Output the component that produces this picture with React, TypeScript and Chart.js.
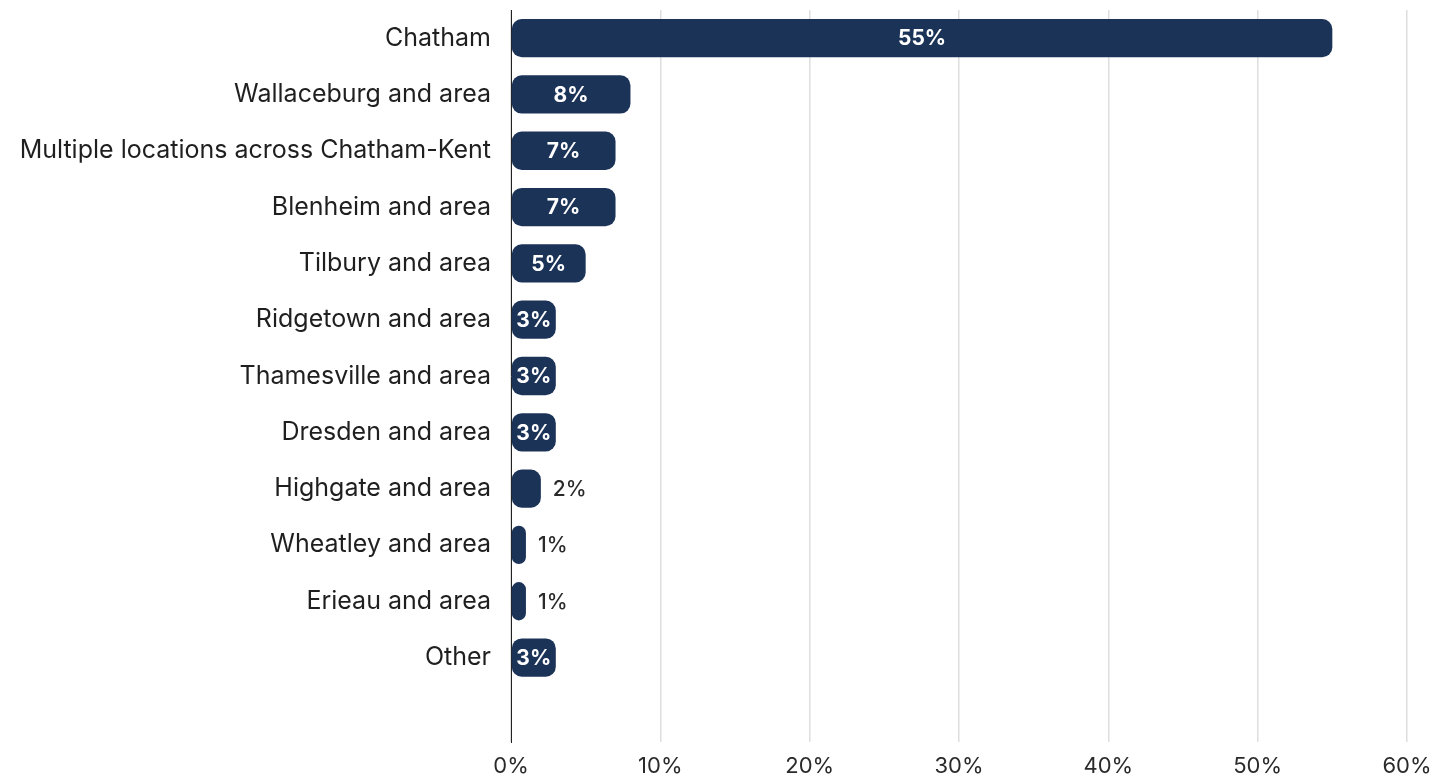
import React, { useEffect, useRef } from "react";
import { Chart, registerables } from "chart.js";

Chart.register(...registerables);

const categories = [
  "Chatham",
  "Wallaceburg and area",
  "Multiple locations across Chatham-Kent",
  "Blenheim and area",
  "Tilbury and area",
  "Ridgetown and area",
  "Thamesville and area",
  "Dresden and area",
  "Highgate and area",
  "Wheatley and area",
  "Erieau and area",
  "Other",
  "",
];
const shares: (number | null)[] = [55, 8, 7, 7, 5, 3, 3, 3, 2, 1, 1, 3, null];
const xTicks = [0, 10, 20, 30, 40, 50, 60];

const FONT = "Inter, 'Open Sans', sans-serif";
const BAR = "#1c3358";

const labelPlugin = {
  id: "barLabels",
  afterDatasetsDraw(chart: any) {
    const ctx = chart.ctx;
    const meta = chart.getDatasetMeta(0);
    meta.data.forEach((el: any, i: number) => {
      const v = shares[i];
      if (v == null) return;
      const txt = v + "%";
      ctx.save();
      ctx.textBaseline = "middle";
      if (v >= 3) {
        ctx.font = `700 21px ${FONT}`;
        ctx.fillStyle = "#ffffff";
        ctx.textAlign = "center";
        ctx.fillText(txt, (el.base + el.x) / 2, el.y + 1);
      } else {
        ctx.font = `500 21px ${FONT}`;
        ctx.fillStyle = "#2a2a2a";
        ctx.textAlign = "left";
        ctx.fillText(txt, el.x + 12, el.y + 1);
      }
      ctx.restore();
    });
  },
};

export default function App() {
  const ref = useRef<HTMLCanvasElement | null>(null);
  useEffect(() => {
    document.body.style.margin = "0";
    const chart = new Chart(ref.current!, {
      type: "bar",
      data: {
        labels: categories,
        datasets: [
          {
            data: shares,
            backgroundColor: BAR,
            borderRadius: 10,
            borderSkipped: false,
            barPercentage: 0.68,
            categoryPercentage: 1,
          },
        ],
      },
      plugins: [labelPlugin],
      options: {
        indexAxis: "y",
        animation: false,
        responsive: false,
        layout: { padding: { top: 10, right: 45, left: 0, bottom: 0 } },
        plugins: { legend: { display: false }, tooltip: { enabled: false } },
        scales: {
          x: {
            min: 0,
            max: 60,
            afterBuildTicks: (s: any) => {
              s.ticks = xTicks.map((v) => ({ value: v }));
            },
            afterFit: (s: any) => {
              s.height = 38;
              s.paddingLeft = 0;
              s.paddingRight = 0;
            },
            ticks: {
              padding: 11,
              color: "#2a2a2a",
              font: { family: FONT, size: 22 },
              callback: (v: any) => v + "%",
            },
            grid: { color: "#dedede", lineWidth: 1.5, drawTicks: false },
            border: { display: false },
          },
          y: {
            afterFit: (s: any) => {
              s.width = 511;
              s.paddingTop = 0;
              s.paddingBottom = 0;
            },
            ticks: {
              padding: 20,
              color: "#1f1f1f",
              font: { family: FONT, size: 25 },
            },
            grid: { display: false, drawTicks: false },
            border: { display: true, color: "#222", width: 1 },
          },
        },
      },
    });
    return () => chart.destroy();
  }, []);
  return (
    <div style={{ position: "absolute", left: 0, top: 0, width: 1452, height: 780, background: "#fff" }}>
      <canvas ref={ref} width={1452} height={780} />
    </div>
  );
}
